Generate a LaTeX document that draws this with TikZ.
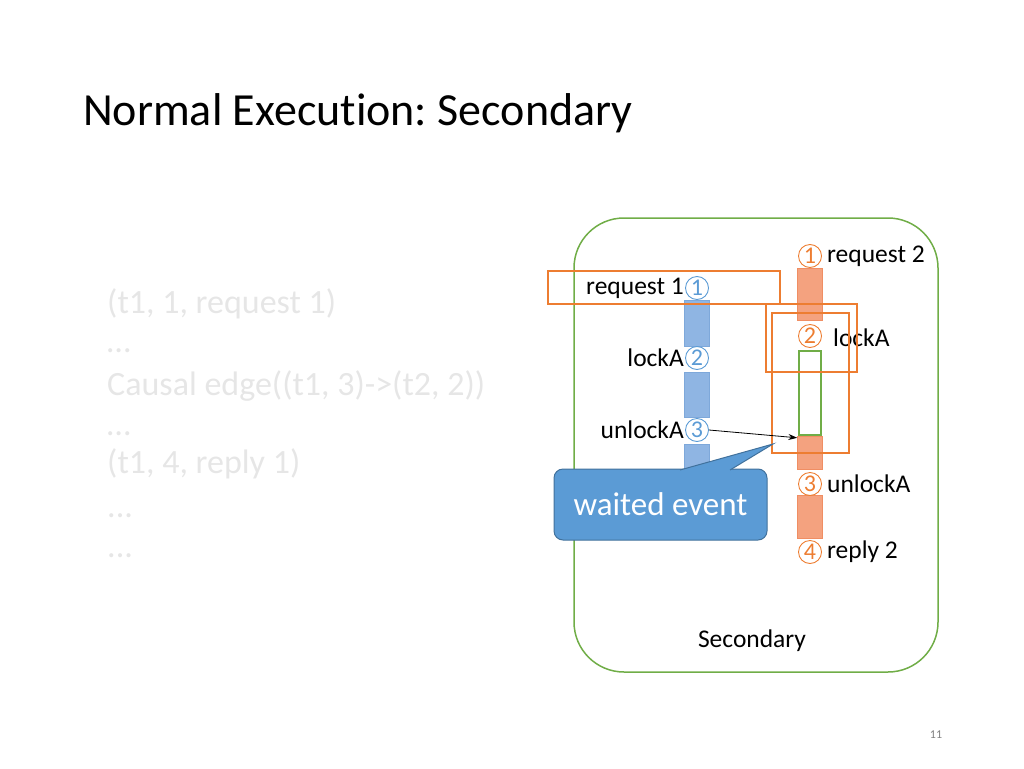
\documentclass[tikz,border=0pt]{standalone}
\usepackage{fontspec}
\setmainfont{Carlito}[Ligatures={TeX,NoCommon}]
\usetikzlibrary{calc,positioning,arrows.meta}
\frenchspacing

\definecolor{blueT}{HTML}{5B9BD5}
\definecolor{blueD}{HTML}{41719C}
\definecolor{blueF}{HTML}{8FB5E3}
\definecolor{blueB}{HTML}{7EA8DA}
\definecolor{orangeT}{HTML}{ED7D31}
\definecolor{orangeF}{HTML}{F4A27F}
\definecolor{orangeB}{HTML}{F08E63}
\definecolor{greenT}{HTML}{70AD47}
\definecolor{ghost}{HTML}{E6E6E6}

\begin{document}
\begin{tikzpicture}[x=1pt, y=-1pt,
      lbl/.style={font=\fontsize{25.5}{30}\selectfont, inner sep=1pt},
      ghostline/.style={anchor=base west, text=ghost, font=\fontsize{34}{40}\selectfont, inner sep=0pt},
      numb/.style={circle, draw=blueT, line width=0.9pt, minimum size=23, inner sep=0pt,
        font=\fontsize{24}{26}\selectfont, text=blueT},
      numo/.style={numb, draw=orangeT, text=orangeT},
      bblk/.style={draw=blueB, fill=blueF, minimum width=25, minimum height=46, inner sep=0pt},
      oblk/.style={draw=orangeB, fill=orangeF, minimum width=25, inner sep=0pt},
      hl/.style={draw=orangeT, line width=1.3pt, inner sep=0pt},
      callbox/.style={rounded corners=9pt, fill=blueT, draw=blueD, line width=1pt, text=white,
        minimum width=213, minimum height=71, font=\fontsize{33}{38}\selectfont},
      arr/.style={-{Stealth[length=9pt, width=6pt]}, thick}
    ]
    \useasboundingbox (0,0) rectangle (1024,768);

    % Title
    \node[anchor=base west, font=\fontsize{46}{52}\selectfont, inner sep=0pt] (title) at (83,125) {Normal Execution: Secondary};

    % Left: faded log
    \node[ghostline] (l1) at (107,313) {(t1, 1, request 1)};
    \node[ghostline] (l2) at (107,352) {…};
    \node[ghostline] (l3) at (107,395) {Causal edge((t1, 3)->(t2, 2))};
    \node[ghostline] (l4) at (107,435) {…};
    \node[ghostline] (l5) at (107,473) {(t1, 4, reply 1)};
    \node[ghostline] (l6) at (107,517) {...};
    \node[ghostline] (l7) at (107,557) {...};

    % Secondary frame
    \node[draw=greenT, line width=1.5pt, rounded corners=50pt, minimum width=364, minimum height=454] (sec) at (756,445) {};
    \node[lbl] (secname) at (752,641) {Secondary};

    % Thread 1 (blue)
    \node[bblk] (b1) at (696.5,323) {};
    \node[bblk, minimum height=45] (b2) at (696.5,394.5) {};
    \node[bblk] (b3) at (696.5,467) {};
    \node[numb] (n1b) at (697,288) {1};
    \node[numb] (n2b) at (697,358) {2};
    \node[numb] (n3b) at (697,430) {3};
    \node[lbl, left=0pt of n1b] (req1) {request 1};
    \node[lbl, left=0pt of n2b] (lock1) {lockA};
    \node[lbl, left=0pt of n3b] (unlock1) {unlockA};

    % Thread 2 (orange)
    \node[oblk, minimum height=52] (o1) at (810,294) {};
    \node[draw=greenT, line width=1.2pt, minimum width=22, minimum height=84, inner sep=0pt] (o2wait) at (810,393) {};
    \node[oblk, minimum height=33] (o2) at (810,452.5) {};
    \node[oblk, minimum height=43] (o3) at (810,516.5) {};
    \node[numo] (n1o) at (810,256) {1};
    \node[numo] (n2o) at (810,336) {2};
    \node[numo] (n3o) at (810,484) {3};
    \node[numo] (n4o) at (810,552) {4};
    \node[lbl, right=4pt of n1o] (req2) {request 2};
    \node[lbl, right=10pt of n2o, yshift=-2pt] (lock2) {lockA};
    \node[lbl, right=4pt of n3o] (unlock2) {unlockA};
    \node[lbl, right=4pt of n4o] (reply2) {reply 2};

    % Highlights
    \node[hl, minimum width=232, minimum height=33] (hReq) at (664,287.5) {};
    \node[hl, minimum width=91, minimum height=68] (hLock) at (811.5,338) {};
    \node[hl, minimum width=77, minimum height=140] (hWait) at (810.5,383) {};

    % Causal edge
    \draw[arr] (n3b.east) -- ($(o2.north west)+(0,2)$);

    % Callout
    \node[callbox] (waited) at (660.5,504.5) {waited event};
    \filldraw[fill=blueT, draw=blueD, line width=1pt]
      ($(waited.north)+(19.5,1.5)$) -- (773,444) -- ($(waited.north)+(69.5,1.5)$);

    % Page number
    \node[text=gray, font=\fontsize{12}{14}\selectfont] (page) at (936,735) {11};
  \end{tikzpicture}
\end{document}
